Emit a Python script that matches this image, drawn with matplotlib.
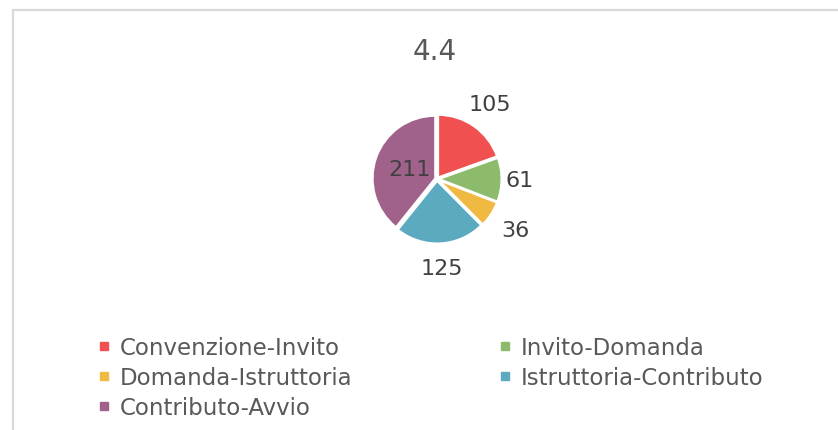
import matplotlib.pyplot as plt
from matplotlib.lines import Line2D
import numpy as np

# data
categories = ['Convenzione-Invito', 'Invito-Domanda', 'Domanda-Istruttoria',
              'Istruttoria-Contributo', 'Contributo-Avvio']
values = [105, 61, 36, 125, 211]
colors = ['#F0504F', '#8CBB6C', '#F0B942', '#5BAAC0', '#A0628A']
# radial position of each data label, in pie radii
label_dist = [1.46, 1.32, 1.50, 1.43, 0.47]

W, H = 838, 431
fig = plt.figure(figsize=(W / 100, H / 100), dpi=100)
fig.patch.set_facecolor('white')

# light frame of the cropped chart area (top and left edges)
fig.add_artist(Line2D([13 / W, 13 / W], [0, 1 - 11 / H], color='#D9D9D9', lw=1.6))
fig.add_artist(Line2D([13 / W, 1], [1 - 11 / H, 1 - 11 / H], color='#D9D9D9', lw=1.6))

# pie axes, 300 px square centred on the pie
cx, cy, box = 437, 180, 300
ax = fig.add_axes([(cx - box / 2) / W, (H - cy - box / 2) / H, box / W, box / H])
wedges, _ = ax.pie(values, colors=colors, startangle=90, counterclock=False,
                   explode=[0.03] * len(values),
                   wedgeprops=dict(edgecolor='white', linewidth=1.5))
lim = (box / 2) / (64.5 / 1.03)
ax.set_xlim(-lim, lim)
ax.set_ylim(-lim, lim)
ax.set_aspect('equal')
ax.axis('off')

for w, v, d in zip(wedges, values, label_dist):
    ang = np.deg2rad((w.theta1 + w.theta2) / 2)
    ax.text(d * np.cos(ang), d * np.sin(ang), str(v), ha='center', va='center',
            fontsize=16, color='#404040')

fig.text(435 / W, 1 - 52 / H, '4.4', ha='center', va='center',
         fontsize=20, color='#595959')

# legend, Excel fills it row by row
handles = [Line2D([], [], marker='s', ls='', color=c, markersize=5.5) for c in colors]
order = [0, 2, 4, 1, 3]
leg = fig.legend([handles[i] for i in order], [categories[i] for i in order],
                 ncol=2, loc='upper left', bbox_to_anchor=(98 / W, 1 - 337 / H),
                 frameon=False, fontsize=16.5, handlelength=0.5, handletextpad=0.45,
                 columnspacing=6.4, labelspacing=0.3, borderpad=0, borderaxespad=0)
for t in leg.get_texts():
    t.set_color('#595959')

fig.savefig('out.png', dpi=100)
